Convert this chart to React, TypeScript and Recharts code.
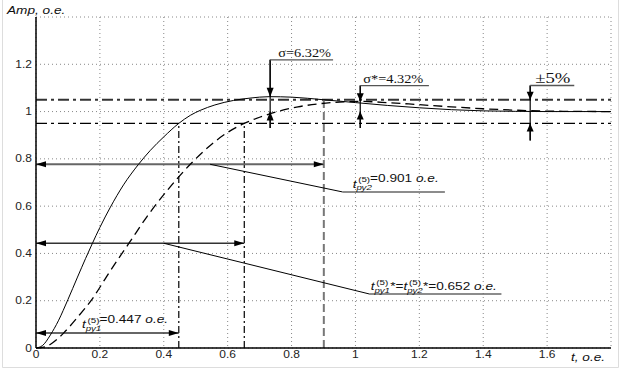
import React from 'react';
import { LineChart, Line, XAxis, YAxis, CartesianGrid, ReferenceLine } from 'recharts';

// step response, system 1 (solid)
const tSolid = [0, 0.02, 0.045, 0.07, 0.1, 0.13, 0.155, 0.176, 0.2, 0.233, 0.274, 0.321, 0.358, 0.4, 0.446, 0.483, 0.514, 0.56, 0.618, 0.67, 0.73, 0.8, 0.9, 1.0, 1.1, 1.2, 1.3, 1.4, 1.5, 1.6, 1.8];
const ySolid = [0, 0.01, 0.055, 0.115, 0.205, 0.3, 0.378, 0.441, 0.51, 0.596, 0.69, 0.777, 0.836, 0.893, 0.949, 0.984, 1.005, 1.028, 1.047, 1.057, 1.063, 1.061, 1.05, 1.038, 1.026, 1.016, 1.008, 1.003, 1.001, 1.0, 1.0];
// step response, system 2 (dashed)
const tDashed = [0, 0.03, 0.05, 0.087, 0.13, 0.18, 0.22, 0.264, 0.29, 0.347, 0.41, 0.483, 0.55, 0.6, 0.652, 0.7, 0.764, 0.82, 0.88, 0.95, 1.014, 1.1, 1.2, 1.3, 1.4, 1.5, 1.6, 1.8];
const yDashed = [0, 0.006, 0.02, 0.064, 0.13, 0.215, 0.3, 0.39, 0.441, 0.555, 0.665, 0.777, 0.862, 0.912, 0.95, 0.976, 1.003, 1.02, 1.032, 1.04, 1.043, 1.038, 1.029, 1.02, 1.012, 1.006, 1.002, 1.0];

const xTicks = [0, 0.2, 0.4, 0.6, 0.8, 1, 1.2, 1.4, 1.6, 1.8];
const yTicks = [0, 0.2, 0.4, 0.6, 0.8, 1, 1.2, 1.4];

const bandHigh = 1.05;
const bandLow = 0.95;
const tpy1 = 0.447;
const tpyStar = 0.652;
const tpy2 = 0.901;
const peak1 = 1.0632;
const peak2 = 1.0432;
const tPeak1 = 0.733;
const tPeak2 = 1.015;
const tBand = 1.547;

const solidData = tSolid.map((t, i) => ({ t, v: ySolid[i] }));
const dashedData = tDashed.map((t, i) => ({ t, v: yDashed[i] }));

const SANS = 'Liberation Sans, Arial, sans-serif';
const SERIF = 'Liberation Serif, Times New Roman, serif';
const K = 1.3;

const head = (x, y, fx, fy, len, half) => {
  const dx = x - fx, dy = y - fy;
  const d = Math.hypot(dx, dy) || 1;
  const ux = dx / d, uy = dy / d;
  const bx = x - ux * len, by = y - uy * len;
  return `${x},${y} ${bx - uy * half},${by + ux * half} ${bx + uy * half},${by - ux * half}`;
};

const arrowShape = (o) => (p) => {
  const { x1, y1, x2, y2 } = p;
  const len = o.len || 9, half = o.half || 3;
  return <g>
      <line x1={x1} y1={y1} x2={x2} y2={y2} stroke={o.stroke || '#000'} strokeWidth={o.width || 1} />
      {o.start && <polygon points={head(x1, y1, x2, y2, len, half)} fill="#000" />}
      {o.end && <polygon points={head(x2, y2, x1, y1, len, half)} fill="#000" />}
      {o.label && o.label(x1, y1)}
    </g>;
};

const Stretch = ({ x, y, k = K, children }) => <g transform={`translate(${x},${y}) scale(${k},1)`}>{children}</g>;

const Tpy = ({ idx, star }) => <>
    <tspan fontStyle="italic">t</tspan>
    <tspan fontSize={7.5} fontStyle="italic" dy={2.5}>ру{idx}</tspan>
    <tspan fontSize={7.5} dx={-10.5} dy={-8}>(5)</tspan>
    <tspan dx={1.5} dy={5.5}>{star ? '*' : ''}</tspan>
  </>;

const sansText = (x, y, content) => <Stretch x={x} y={y}>
    <text x={0} y={0} fontSize={10.5} fontFamily={SANS} fill="#111">{content}</text>
  </Stretch>;

const serifText = (x, y, content, size) => <Stretch x={x} y={y} k={1.25}>
    <text x={0} y={0} fontSize={size} fontFamily={SERIF} fill="#111">{content}</text>
  </Stretch>;

const XTick = (p) => {
  const v = p.payload.value;
  if (v > 1.75) return null;
  return <Stretch x={p.x} y={p.y} k={1.2}>
      <text x={0} y={0} dy="0.71em" textAnchor="middle" fontSize={10} fontFamily={SANS} fill="#222">{String(v)}</text>
    </Stretch>;
};

const YTick = (p) => {
  const v = p.payload.value;
  if (v > 1.35) return null;
  return <Stretch x={p.x} y={p.y} k={1.2}>
      <text x={0} y={0} dy="0.35em" textAnchor="end" fontSize={10} fontFamily={SANS} fill="#222">{String(v)}</text>
    </Stretch>;
};

const dashDot = '11 4 3 4';

export default function App() {
  return <div style={{ position: 'absolute', left: 0, top: 0, width: 622, height: 370, background: '#fff' }}>
      <LineChart width={622} height={370} margin={{ top: 17, right: 11, bottom: 0, left: 6 }}>
        <CartesianGrid stroke="#888" strokeDasharray="1 3" />
        <XAxis type="number" dataKey="t" domain={[0, 1.8]} ticks={xTicks} interval={0} height={22}
          tickLine={false} tickSize={0} tickMargin={3} axisLine={{ stroke: '#000', strokeWidth: 1.5 }} tick={XTick} />
        <YAxis type="number" domain={[0, 1.4]} ticks={yTicks} interval={0} width={30}
          tickLine={false} tickSize={0} tickMargin={4} axisLine={{ stroke: '#000', strokeWidth: 1.5 }} tick={YTick} />
        <XAxis xAxisId="top" orientation="top" type="number" domain={[0, 1.8]} ticks={xTicks} interval={0} height={0}
          mirror tickSize={3} tick={false} tickLine={{ stroke: '#000' }} axisLine={{ stroke: '#000', strokeWidth: 1.5 }} />
        <YAxis yAxisId="right" orientation="right" type="number" domain={[0, 1.4]} ticks={yTicks} interval={0} width={0}
          mirror tickSize={4} tick={false} tickLine={{ stroke: '#000' }} axisLine={{ stroke: '#000', strokeWidth: 1.5 }} />

        {/* +-5% band */}
        <ReferenceLine y={bandHigh} stroke="#333" strokeWidth={2} strokeDasharray={dashDot} />
        <ReferenceLine y={bandLow} stroke="#000" strokeWidth={1.2} strokeDasharray={dashDot} />

        {/* settling time markers */}
        <ReferenceLine segment={[{ x: tpy1, y: 0 }, { x: tpy1, y: bandLow }]} stroke="#000" strokeWidth={1.2} strokeDasharray="7 3 2 3" />
        <ReferenceLine segment={[{ x: tpyStar, y: 0 }, { x: tpyStar, y: bandLow }]} stroke="#000" strokeWidth={1.2} strokeDasharray="7 3 2 3" />
        <ReferenceLine segment={[{ x: tpy2, y: 0 }, { x: tpy2, y: bandHigh }]} stroke="#777" strokeWidth={2} strokeDasharray="8 4" />

        {/* double arrows and leaders */}
        <ReferenceLine segment={[{ x: 0, y: 0.777 }, { x: tpy2, y: 0.777 }]}
          shape={arrowShape({ start: true, end: true, stroke: '#666', width: 2, len: 10, half: 3 })} />
        <ReferenceLine segment={[{ x: 0, y: 0.443 }, { x: tpyStar, y: 0.443 }]}
          shape={arrowShape({ start: true, end: true, stroke: '#333', width: 1.5, len: 10, half: 3 })} />
        <ReferenceLine segment={[{ x: 0, y: 0.063 }, { x: tpy1, y: 0.063 }]}
          shape={arrowShape({ start: true, end: true, stroke: '#333', width: 1.5, len: 10, half: 3,
            label: (x, y) => sansText(x + 46, y - 5, <><Tpy idx="1" />=0.447 <tspan fontStyle="italic">о.е.</tspan></>) })} />
        <ReferenceLine segment={[{ x: 0.545, y: 0.777 }, { x: 0.96, y: 0.66 }]} stroke="#000" strokeWidth={1} />
        <ReferenceLine segment={[{ x: 0.4, y: 0.443 }, { x: 1.045, y: 0.228 }]} stroke="#000" strokeWidth={1} />
        <ReferenceLine segment={[{ x: 0.96, y: 0.66 }, { x: 1.28, y: 0.66 }]}
          shape={arrowShape({ stroke: '#666', width: 1.5,
            label: (x, y) => sansText(x + 10, y - 4, <><Tpy idx="2" />=0.901 <tspan fontStyle="italic">о.е.</tspan></>) })} />
        <ReferenceLine segment={[{ x: 1.045, y: 0.228 }, { x: 1.457, y: 0.228 }]}
          shape={arrowShape({ stroke: '#666', width: 1.5,
            label: (x, y) => sansText(x + 1, y - 4, <><Tpy idx="1" star />=<Tpy idx="2" star />=0.652 <tspan fontStyle="italic">о.е.</tspan></>) })} />

        {/* overshoot sigma */}
        <ReferenceLine segment={[{ x: tPeak1, y: 1.219 }, { x: tPeak1, y: 0.93 }]} stroke="#000" strokeWidth={1.2} />
        <ReferenceLine segment={[{ x: tPeak1, y: 1.219 }, { x: tPeak1, y: peak1 }]} shape={arrowShape({ end: true, width: 1.2, len: 9, half: 3.5 })} />
        <ReferenceLine segment={[{ x: tPeak1, y: 0.93 }, { x: tPeak1, y: 1.0 }]} shape={arrowShape({ end: true, width: 1.2, len: 9, half: 3.5 })} />
        <ReferenceLine segment={[{ x: tPeak1, y: 1.219 }, { x: 0.93, y: 1.219 }]}
          shape={arrowShape({ stroke: '#555', width: 1.2, label: (x, y) => serifText(x + 8, y - 2.5, 'σ=6.32%', 11.5) })} />

        {/* overshoot sigma* */}
        <ReferenceLine segment={[{ x: tPeak2, y: 1.11 }, { x: tPeak2, y: 0.93 }]} stroke="#000" strokeWidth={1.2} />
        <ReferenceLine segment={[{ x: tPeak2, y: 1.11 }, { x: tPeak2, y: peak2 }]} shape={arrowShape({ end: true, width: 1.2, len: 8, half: 3.5 })} />
        <ReferenceLine segment={[{ x: tPeak2, y: 0.93 }, { x: tPeak2, y: 1.0 }]} shape={arrowShape({ end: true, width: 1.2, len: 8, half: 3.5 })} />
        <ReferenceLine segment={[{ x: tPeak2, y: 1.11 }, { x: 1.23, y: 1.11 }]}
          shape={arrowShape({ stroke: '#555', width: 1.2, label: (x, y) => serifText(x + 3, y - 3, 'σ*=4.32%', 11.5) })} />

        {/* +-5% marker */}
        <ReferenceLine segment={[{ x: tBand, y: 1.11 }, { x: tBand, y: 0.878 }]} stroke="#000" strokeWidth={1.2} />
        <ReferenceLine segment={[{ x: tBand, y: 1.11 }, { x: tBand, y: bandHigh }]} shape={arrowShape({ end: true, width: 1.2, len: 8, half: 3.5 })} />
        <ReferenceLine segment={[{ x: tBand, y: 0.878 }, { x: tBand, y: bandLow }]} shape={arrowShape({ end: true, width: 1.2, len: 8, half: 3.5 })} />
        <ReferenceLine segment={[{ x: tBand, y: 1.11 }, { x: 1.685, y: 1.11 }]}
          shape={arrowShape({ stroke: '#555', width: 1.5, label: (x, y) => serifText(x + 5, y - 3, '±5%', 15) })} />

        <Line data={solidData} dataKey="v" type="monotone" stroke="#000" strokeWidth={1} dot={false} isAnimationActive={false} />
        <Line data={dashedData} dataKey="v" type="monotone" stroke="#000" strokeWidth={1.3} strokeDasharray="9 5" dot={false} isAnimationActive={false} />
      </LineChart>
      <svg width={622} height={370} style={{ position: 'absolute', left: 0, top: 0, pointerEvents: 'none' }}>
        <line x1={2.5} y1={0} x2={2.5} y2={367.5} stroke="#ddd" />
        <line x1={2.5} y1={367.5} x2={618.5} y2={367.5} stroke="#ddd" />
        <line x1={618.5} y1={0} x2={618.5} y2={367.5} stroke="#ddd" />
        <Stretch x={7} y={14} k={1.3}>
          <text x={0} y={0} fontSize={10.5} fontStyle="italic" fontFamily={SANS} fill="#111">Amp, о.е.</text>
        </Stretch>
        <Stretch x={571} y={361} k={1.3}>
          <text x={0} y={0} fontSize={10.5} fontStyle="italic" fontFamily={SANS} fill="#111">t, о.е.</text>
        </Stretch>
      </svg>
    </div>;
}
